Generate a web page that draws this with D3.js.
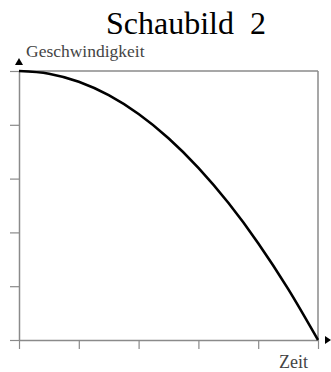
<!DOCTYPE html>
<html>
<head>
<meta charset="utf-8">
<script src="https://cdn.jsdelivr.net/npm/d3@7"></script>
<style>
  html, body { margin: 0; padding: 0; background: #fff; }
  svg { display: block; }
</style>
</head>
<body>
<svg id="chart" width="331" height="372"></svg>
<script>
// Zeit (relative) and Geschwindigkeit (relative)
const zeit = [0, 0.1, 0.2, 0.3, 0.4, 0.5, 0.6, 0.7, 0.8, 0.9, 1.0];
const geschwindigkeit = [1.0, 0.99, 0.96, 0.91, 0.84, 0.75, 0.64, 0.51, 0.36, 0.19, 0.0];
const xTicks = [0, 0.2, 0.4, 0.6, 0.8, 1.0];
const yTicks = [0, 0.2, 0.4, 0.6, 0.8, 1.0];
const title = "Schaubild  2";
const yLabel = "Geschwindigkeit";
const xLabel = "Zeit";

(function draw() {
  const svg = d3.select("#chart");
  const m = { left: 19, right: 318, top: 71, bottom: 340 };

  const x = d3.scaleLinear().domain([0, 1]).range([m.left, m.right]);
  const y = d3.scaleLinear().domain([0, 1]).range([m.bottom, m.top]);

  const axisColor = "#8a8a8a";

  // frame: top and right border
  svg.append("line").attr("x1", m.left).attr("x2", m.right).attr("y1", m.top).attr("y2", m.top)
    .attr("stroke", axisColor).attr("stroke-width", 1.5);
  svg.append("line").attr("x1", m.right).attr("x2", m.right).attr("y1", m.top).attr("y2", m.bottom)
    .attr("stroke", axisColor).attr("stroke-width", 1.5);

  // x axis
  const xAxis = svg.append("g").attr("transform", `translate(0,${m.bottom})`)
    .call(d3.axisBottom(x).tickValues(xTicks).tickSize(9).tickSizeOuter(0).tickFormat(""));
  // y axis
  const yAxis = svg.append("g").attr("transform", `translate(${m.left},0)`)
    .call(d3.axisLeft(y).tickValues(yTicks).tickSize(9).tickSizeOuter(0).tickFormat(""));
  [xAxis, yAxis].forEach(g => {
    g.selectAll("path.domain").attr("stroke", axisColor).attr("stroke-width", 1.5);
    g.selectAll(".tick line").attr("stroke", axisColor).attr("stroke-width", 1.2);
  });

  // arrowheads
  svg.append("path")
    .attr("d", `M${m.left - 4},${m.top - 6} L${m.left + 4},${m.top - 6} L${m.left},${m.top - 13} Z`)
    .attr("fill", "#000");
  svg.append("path")
    .attr("d", `M${m.right + 7},${m.bottom - 4} L${m.right + 7},${m.bottom + 4} L${m.right + 13},${m.bottom} Z`)
    .attr("fill", "#000");

  // curve
  const line = d3.line()
    .x((d, i) => x(zeit[i]))
    .y(d => y(d))
    .curve(d3.curveMonotoneX);
  svg.append("path")
    .datum(geschwindigkeit)
    .attr("d", line)
    .attr("fill", "none")
    .attr("stroke", "#000")
    .attr("stroke-width", 2.6);

  // texts
  svg.append("text")
    .attr("x", 186).attr("y", 33.5)
    .attr("text-anchor", "middle")
    .attr("font-family", "'Liberation Serif', 'Times New Roman', serif")
    .attr("font-size", 32)
    .style("white-space", "pre")
    .attr("fill", "#000")
    .text(title);

  svg.append("text")
    .attr("x", 26).attr("y", 57)
    .attr("font-family", "'Liberation Serif', 'Times New Roman', serif")
    .attr("font-size", 17.5)
    .attr("fill", "#444")
    .text(yLabel);

  svg.append("text")
    .attr("x", 279).attr("y", 368)
    .attr("font-family", "'Liberation Serif', 'Times New Roman', serif")
    .attr("font-size", 18)
    .attr("fill", "#444")
    .text(xLabel);
})();
</script>
</body>
</html>
